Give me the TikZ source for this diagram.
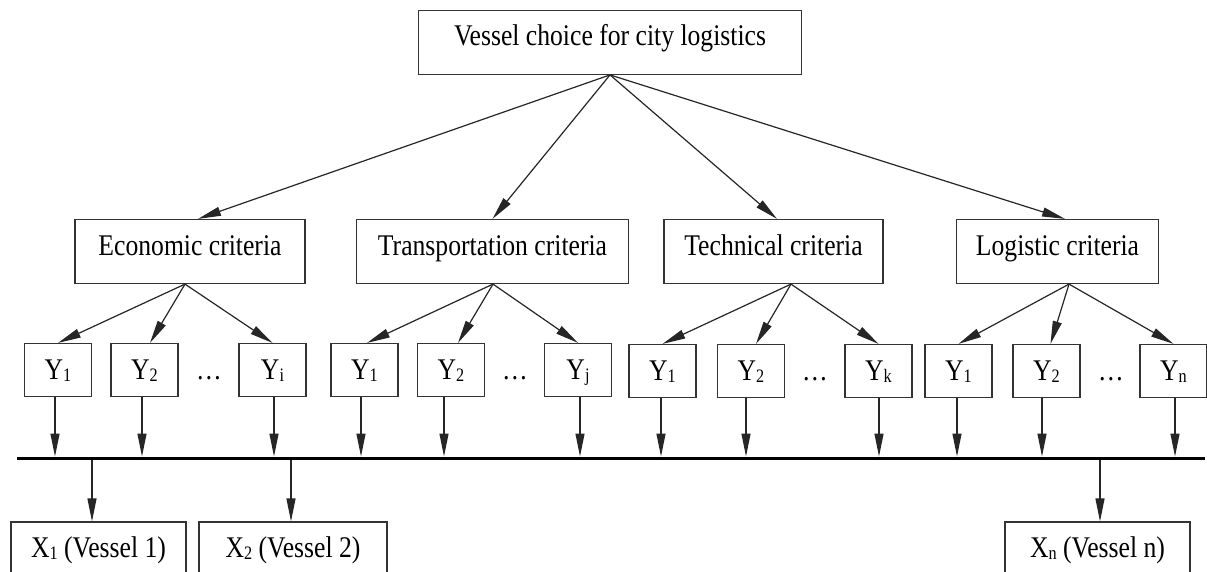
\documentclass[tikz,border=0pt]{standalone}
\usepackage{fontspec}
\setmainfont[FakeStretch=0.855]{Liberation Serif}
\usetikzlibrary{arrows.meta,calc}
\newcommand\mysub[1]{\raisebox{-1.5pt}{\fontsize{19}{19}\selectfont #1}}
\tikzset{
  bigbox/.style={draw=black!80, line width=1.2pt, inner sep=0pt, minimum height=64pt,
    text height=21pt, text depth=14pt, font=\fontsize{30}{30}\selectfont},
  ybox/.style={draw=black!80, line width=1.2pt, inner sep=0pt, minimum width=67pt, minimum height=53pt,
    text height=21pt, text depth=2pt, font=\fontsize{30}{30}\selectfont},
  dotsnode/.style={inner sep=0pt, text height=21pt, text depth=2pt, font=\fontsize{30}{30}\selectfont},
  arr/.style={draw=black!85, line width=1.2pt, -{Stealth[length=23pt,width=9pt,inset=0pt]}},
  barline/.style={draw=black, line width=3pt}
}
\begin{document}
\begin{tikzpicture}[x=1pt,y=-1pt]
\useasboundingbox (0,0) rectangle (1207,571);
\clip (0,0) rectangle (1207,571);
\fill[white] (0,0) rectangle (1207,571);
% top
\node[bigbox, minimum width=383.5pt] (top) at (610,42.3) {Vessel choice for city logistics};
% criteria
\node[bigbox, minimum width=230pt] (econ)  at (190,251.5)  {Economic criteria};
\node[bigbox, minimum width=272pt] (trans) at (492.5,251.5){Transportation criteria};
\node[bigbox, minimum width=219pt] (tech)  at (773.5,251.5){Technical criteria};
\node[bigbox, minimum width=202pt] (logi)  at (1057.5,251.5){Logistic criteria};
% Y boxes
\node[ybox] (e1) at (58,370)    {Y\mysub{1}};
\node[ybox] (e2) at (144.5,370) {Y\mysub{2}};
\node[ybox] (ei) at (272.5,370) {Y\mysub{i}};
\node[dotsnode] (ed) at (209,370) {…};
\node[ybox] (t1) at (364.5,370) {Y\mysub{1}};
\node[ybox] (t2) at (451,370)   {Y\mysub{2}};
\node[ybox] (tj) at (578,370)   {Y\mysub{j}};
\node[dotsnode] (td) at (515,370) {…};
\node[ybox] (c1) at (662.5,371) {Y\mysub{1}};
\node[ybox] (c2) at (751,371)   {Y\mysub{2}};
\node[ybox] (ck) at (878.5,371) {Y\mysub{k}};
\node[dotsnode] (cd) at (815,371) {…};
\node[ybox] (l1) at (958.5,371) {Y\mysub{1}};
\node[ybox] (l2) at (1046.5,371){Y\mysub{2}};
\node[ybox] (ln) at (1173.5,371){Y\mysub{n}};
\node[dotsnode] (ld) at (1111,371) {…};
% X boxes
\node[bigbox, minimum width=175pt] (x1) at (98.5,554)  {X\mysub{1} (Vessel 1)};
\node[bigbox, minimum width=188pt] (x2) at (293,554)   {X\mysub{2} (Vessel 2)};
\node[bigbox, minimum width=185pt] (xn) at (1097.5,554){X\mysub{n} (Vessel n)};
% bar
\coordinate (barL) at (17,458);
\coordinate (barR) at (1205,458);
\draw[barline] (barL) -- (barR);
% top arrows
\draw[arr] (top.south) -- ($(econ.north)+(8,0)$);
\draw[arr] (top.south) -- (trans.north);
\draw[arr] (top.south) -- ($(tech.north)+(3.5,0)$);
\draw[arr] (top.south) -- ($(logi.north)+(7.5,0)$);
% criteria apexes
\coordinate (ea) at ($(econ.south)+(-5,0)$);
\coordinate (ta) at ($(trans.south)+(0.5,0)$);
\coordinate (ca) at ($(tech.south)+(17.5,0)$);
\coordinate (la) at ($(logi.south)+(11.5,0)$);
\draw[arr] (ea) -- (e1.north);
\draw[arr] (ea) -- ($(e2.north)+(5.5,0)$);
\draw[arr] (ea) -- (ei.north);
\draw[arr] (ta) -- ($(t1.north)+(2.5,0)$);
\draw[arr] (ta) -- ($(t2.north)+(7,0)$);
\draw[arr] (ta) -- (tj.north);
\draw[arr] (ca) -- (c1.north);
\draw[arr] (ca) -- ($(c2.north)+(5,0)$);
\draw[arr] (ca) -- (ck.north);
\draw[arr] (la) -- (l1.north);
\draw[arr] (la) -- ($(l2.north)+(4,0)$);
\draw[arr] (la) -- (ln.north);
% Y to bar
\foreach \n/\dx in {e1/-3,e2/-2.5,ei/1.5,t1/-3.5,t2/-7,tj/2,c1/-1.5,c2/-5,ck/0.5,l1/-1.5,l2/-4.5,ln/1.5}{
  \draw[arr, shorten >=1.5pt] ($(\n.south)+(\dx,0)$) -- ($(\n.south |- barL)+(\dx,0)$);
}
% bar to X
\coordinate (d1) at (92,458);
\coordinate (d2) at (291,458);
\coordinate (dn) at (1100,458);
\draw[arr, shorten <=1.5pt] (d1) -- (d1 |- x1.north);
\draw[arr, shorten <=1.5pt] (d2) -- (d2 |- x2.north);
\draw[arr, shorten <=1.5pt] (dn) -- (dn |- xn.north);
\end{tikzpicture}
\end{document}
